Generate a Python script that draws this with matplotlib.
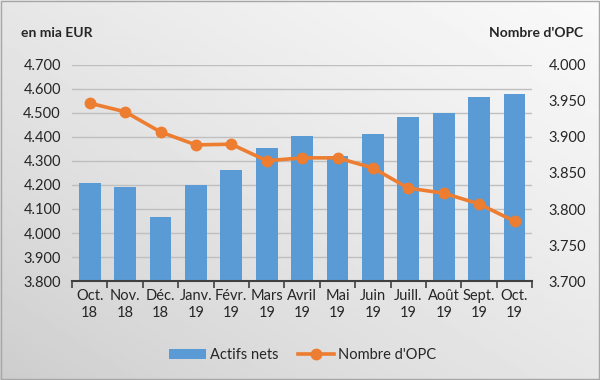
import numpy as np
import matplotlib; matplotlib.use("Agg"); import matplotlib.pyplot as plt
from matplotlib.ticker import FuncFormatter, MultipleLocator

plt.rcParams["font.family"] = ["Lato", "DejaVu Sans"]

# ---------- data ----------
months = ["Oct.\n18", "Nov.\n18", "Déc.\n18", "Janv.\n19", "Févr.\n19", "Mars\n19", "Avril\n19",
          "Mai\n19", "Juin\n19", "Juill.\n19", "Août\n19", "Sept.\n19", "Oct.\n19"]
actifs_nets = [4208, 4192, 4067, 4200, 4262, 4354, 4404, 4321, 4412, 4483, 4500, 4567, 4579]   # en mia EUR
nombre_opc = [3947, 3935, 3907, 3889, 3890, 3867, 3871, 3871, 3857, 3829, 3822, 3807, 3783]

BLUE, ORANGE, TXT = "#5b9bd5", "#ed7d31", "#262626"
dots = FuncFormatter(lambda v, _: f"{v:,.0f}".replace(",", "."))

fig = plt.figure(figsize=(6, 3.8), dpi=100)
# diagonal grey gradient background, light top-right -> darker bottom-left
bg = fig.add_axes([0, 0, 1, 1], zorder=-10); bg.axis("off")
yy, xx = np.mgrid[0:1:200j, 0:1:300j]
g = 0.80 + 0.18 * np.clip((xx + (1 - yy)) / 2, 0, 1) ** 0.8
bg.imshow(g, cmap="gray", vmin=0, vmax=1, aspect="auto", extent=[0, 1, 0, 1], origin="upper")
bg.add_patch(plt.Rectangle((0.001, 0.002), 0.997, 0.995, fill=False, ec="#a6a6a6", lw=1, transform=bg.transAxes))

ax = fig.add_axes([0.12, 0.2605, 0.767, 0.5685]); ax.patch.set_alpha(0)
x = np.arange(len(months))
ax.bar(x, actifs_nets, width=0.62, color=BLUE, zorder=2, label="Actifs nets")
ax.set_ylim(3800, 4700); ax.set_xlim(-0.5, len(months) - 0.5)
ax.yaxis.set_major_locator(MultipleLocator(100)); ax.yaxis.set_major_formatter(dots)
ax.grid(axis="y", color="#bfbfbf", lw=1, zorder=0)
ax.set_xticks(x); ax.set_xticklabels(months)
ax.set_xticks(np.arange(-0.5, len(months)), minor=True)
ax.tick_params(axis="x", which="major", length=0, pad=6, labelsize=10.5, labelcolor=TXT)
ax.tick_params(axis="x", which="minor", length=5, width=1.2, color="#404040", direction="out")
ax.tick_params(axis="y", length=0, labelsize=10.5, labelcolor=TXT, pad=8)
for s in ("top", "left", "right"): ax.spines[s].set_visible(False)
ax.spines["bottom"].set_color("#404040"); ax.spines["bottom"].set_linewidth(1.5)

ax2 = ax.twinx()
ax2.plot(x, nombre_opc, color=ORANGE, lw=2.6, marker="o", ms=7.5, zorder=3, label="Nombre d'OPC")
ax2.set_ylim(3700, 4000)
ax2.yaxis.set_major_locator(MultipleLocator(50)); ax2.yaxis.set_major_formatter(dots)
ax2.tick_params(axis="y", length=0, labelsize=10.5, labelcolor=TXT, pad=12)
for s in ax2.spines.values(): s.set_visible(False)

fig.text(0.035, 0.913, "en mia EUR", fontsize=10, fontweight="bold", color=TXT, va="center")
fig.text(0.972, 0.913, "Nombre d'OPC", fontsize=10, fontweight="bold", color=TXT, va="center", ha="right")

h1, l1 = ax.get_legend_handles_labels(); h2, l2 = ax2.get_legend_handles_labels()
fig.legend(h1 + h2, l1 + l2, loc="center", bbox_to_anchor=(0.505, 0.065), ncol=2, frameon=False,
           fontsize=10.5, handlelength=2.5, handletextpad=0.3, columnspacing=1.3, labelcolor=TXT)

plt.savefig("out.png", dpi=100)
